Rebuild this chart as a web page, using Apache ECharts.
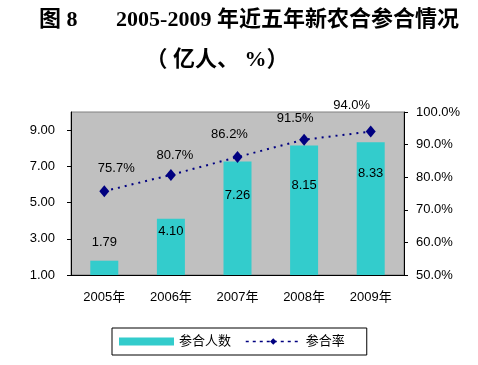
<!DOCTYPE html>
<html><head><meta charset="utf-8">
<script src="https://cdn.jsdelivr.net/npm/echarts@6/dist/echarts.min.js"></script>
<style>html,body{margin:0;padding:0;background:#fff}#c{width:478px;height:365px}</style>
</head><body><div id="c"></div>
<script>
var categories = ['2005年','2006年','2007年','2008年','2009年'];
var people = [1.79, 4.10, 7.26, 8.15, 8.33];
var rate = [75.7, 80.7, 86.2, 91.5, 94.0];
var leftTicks = [1, 3, 5, 7, 9];
var rightTicks = [50, 60, 70, 80, 90, 100];

// label placement tweaks (as in the original figure)
var barLabelPos = ['top', 'insideTop', 'insideTop', 'insideTop', 'insideTop'];
var barLabelDist = [12, 6, 27, 33, 25];
var lineLabelDist = [10, 6.5, 10.5, 8.5, 13.5];
var lineLabelDx = [12, 4, -8, -9, -19];

var chart = echarts.init(document.getElementById('c'));
var font = 'Arial, "Liberation Sans", "Noto Sans CJK SC", sans-serif';
var serif = '"Liberation Serif", "Noto Sans CJK SC", serif';
chart.setOption({
  backgroundColor: '#fff',
  animation: false,
  title: [
    {text: '图 8       2005-2009 年近五年新农合参合情况', left: 244, top: 4, textAlign: 'center',
     textStyle: {fontFamily: serif, fontWeight: 'bold', fontSize: 22, color: '#000'}},
    {text: '（ 亿人、 %）', left: 212, top: 44, textAlign: 'center',
     textStyle: {fontFamily: serif, fontWeight: 'bold', fontSize: 22, color: '#000'}}
  ],
  grid: {left: 71, right: 74, top: 112, bottom: 90, show: true, backgroundColor: '#C0C0C0', borderColor: '#808080', borderWidth: 1},
  legend: {
    left: 112, top: 328, height: 20,
    borderColor: '#000', borderWidth: 1, padding: [7, 22, 7, 7],
    itemGap: 14, itemWidth: 55, itemHeight: 8,
    textStyle: {fontFamily: font, fontSize: 13, color: '#000'},
    data: [{name: '参合人数', icon: 'rect'},
           {name: '参合率', lineStyle: {type: [3, 4], width: 1.5, color: '#000080'}}]
  },
  xAxis: {
    type: 'category', data: categories,
    axisLine: {lineStyle: {color: '#000'}},
    axisTick: {inside: true, length: 5, lineStyle: {color: '#000'}},
    axisLabel: {color: '#000', fontFamily: font, fontSize: 13, margin: 16}
  },
  yAxis: [
    {type: 'value', min: 1, max: 10, interval: 2,
     axisLine: {show: true, lineStyle: {color: '#000'}},
     axisTick: {show: true, length: 4, lineStyle: {color: '#000'}},
     splitLine: {show: false},
     axisLabel: {showMaxLabel: false, color: '#000', fontFamily: font, fontSize: 13, margin: 16,
       formatter: function (v) { return leftTicks.indexOf(v) >= 0 ? v.toFixed(2) : ''; }}},
    {type: 'value', min: 50, max: 100, interval: 10,
     axisLine: {show: true, lineStyle: {color: '#000'}},
     axisTick: {show: true, length: 4, lineStyle: {color: '#000'}},
     splitLine: {show: false},
     axisLabel: {color: '#000', fontFamily: font, fontSize: 13, margin: 12,
       formatter: function (v) { return rightTicks.indexOf(v) >= 0 ? v.toFixed(1) + '%' : ''; }}}
  ],
  series: [
    {name: '参合人数', type: 'bar', barWidth: 28, yAxisIndex: 0,
     itemStyle: {color: '#33CCCC'},
     data: people.map(function (v, i) {
       return {value: v, label: {show: true, position: barLabelPos[i], distance: barLabelDist[i],
         formatter: function (p) { return p.value.toFixed(2); },
         color: '#000', fontFamily: font, fontSize: 13}};
     })},
    {name: '参合率', type: 'line', yAxisIndex: 1,
     symbol: 'diamond', symbolSize: [10, 12],
     itemStyle: {color: '#000080'},
     lineStyle: {color: '#000080', type: [2, 5], width: 2},
     data: rate.map(function (v, i) {
       return {value: v, label: {show: true, position: 'top', distance: lineLabelDist[i], offset: [lineLabelDx[i], 0],
         color: '#000', fontFamily: font, fontSize: 13,
         formatter: function (p) { return p.value.toFixed(1) + '%'; }}};
     })}
  ]
});
</script></body></html>
